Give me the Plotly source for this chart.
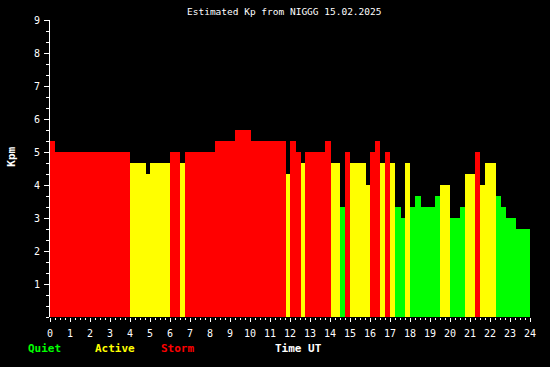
import plotly.graph_objects as go

# Interval boundaries (hours UT) and estimated Kp per interval
seg_start = [0.0, 0.25, 4.0, 4.8, 5.0, 6.0, 6.5, 6.75, 8.25, 9.25, 10.05, 11.8, 12.0, 12.3,
             12.55, 12.75, 13.75, 14.05, 14.5, 14.75, 15.0, 15.8, 16.0, 16.25, 16.5, 16.75,
             17.0, 17.25, 17.55, 17.75, 18.0, 18.25, 18.55, 19.25, 19.5, 20.0, 20.5, 20.75,
             21.25, 21.5, 21.75, 22.3, 22.55, 22.8, 23.3]
seg_end = seg_start[1:] + [24.0]
kp_values = [5.33, 5.0, 4.67, 4.33, 4.67, 5.0, 4.67, 5.0, 5.33, 5.67, 5.33, 4.33, 5.33, 5.0,
             4.67, 5.0, 5.33, 4.67, 3.33, 5.0, 4.67, 4.0, 5.0, 5.33, 4.67, 5.0,
             4.67, 3.33, 3.0, 4.67, 3.33, 3.67, 3.33, 3.67, 4.0, 3.0, 3.33, 4.33,
             5.0, 4.0, 4.67, 3.67, 3.33, 3.0, 2.67]
x_ticks = list(range(0, 25))
y_ticks = list(range(0, 10))
y_ticktext = [""] + [str(v) for v in range(1, 10)]

GREEN, YELLOW, RED = "#00FF00", "#FFFF00", "#FF0000"


def kp_color(v):
    if v >= 4.99:
        return RED
    if v >= 3.99:
        return YELLOW
    return GREEN


mids = [(a + b) / 2 for a, b in zip(seg_start, seg_end)]
widths = [b - a for a, b in zip(seg_start, seg_end)]
colors = [kp_color(v) for v in kp_values]

fig = go.Figure(go.Bar(
    x=mids, y=kp_values, width=widths, base=0,
    marker=dict(color=colors, line=dict(width=0)),
    hoverinfo="skip",
))

mono = "DejaVu Sans Mono"
fig.update_layout(
    width=550, height=367,
    margin=dict(l=50, r=20, t=20.3, b=49.7),
    paper_bgcolor="black", plot_bgcolor="black",
    showlegend=False, bargap=0,
    font=dict(family=mono, color="white", size=10),
    xaxis=dict(
        range=[0, 24], tickmode="array", tickvals=x_ticks,
        ticks="outside", ticklen=4, tickwidth=1, tickcolor="white",
        showgrid=False, zeroline=False, showline=False,
        tickfont=dict(family=mono, size=10, color="white"),
        ticklabelstandoff=3,
        minor=dict(tickmode="array", tickvals=[i * 0.25 for i in range(97)],
                   ticks="outside", ticklen=2, tickwidth=1, tickcolor="white",
                   showgrid=False),
    ),
    yaxis=dict(
        range=[0, 9], tickmode="array", tickvals=y_ticks, ticktext=y_ticktext,
        ticks="outside", ticklen=5, tickwidth=1, tickcolor="white",
        showgrid=False, zeroline=False, showline=True, linecolor="white", linewidth=1,
        tickfont=dict(family=mono, size=10, color="white"),
        ticklabelstandoff=2,
        minor=dict(tickmode="array", tickvals=[i / 3 for i in range(28)],
                   ticks="outside", ticklen=3, tickwidth=1, tickcolor="white",
                   showgrid=False),
    ),
    annotations=[
        dict(text="Estimated Kp from NIGGG 15.02.2025", xref="paper", yref="paper",
             x=0.4885, y=1.027, showarrow=False, xanchor="center", yanchor="middle",
             font=dict(family=mono, size=9.5, color="white")),
        dict(text="<b>Kpm</b>", xref="paper", yref="paper", x=-0.079, y=0.54,
             textangle=-90, showarrow=False, xanchor="center", yanchor="middle",
             font=dict(family=mono, size=11, color="white")),
        dict(text="<b>Quiet</b>", xref="paper", yref="paper", x=-0.0115, y=-0.107,
             showarrow=False, xanchor="center", yanchor="middle",
             font=dict(family=mono, size=11, color=GREEN)),
        dict(text="<b>Active</b>", xref="paper", yref="paper", x=0.1348, y=-0.107,
             showarrow=False, xanchor="center", yanchor="middle",
             font=dict(family=mono, size=11, color=YELLOW)),
        dict(text="<b>Storm</b>", xref="paper", yref="paper", x=0.266, y=-0.107,
             showarrow=False, xanchor="center", yanchor="middle",
             font=dict(family=mono, size=11, color=RED)),
        dict(text="<b>Time UT</b>", xref="paper", yref="paper", x=0.517, y=-0.107,
             showarrow=False, xanchor="center", yanchor="middle",
             font=dict(family=mono, size=11, color="white")),
    ],
)

fig.write_html("out.html")
